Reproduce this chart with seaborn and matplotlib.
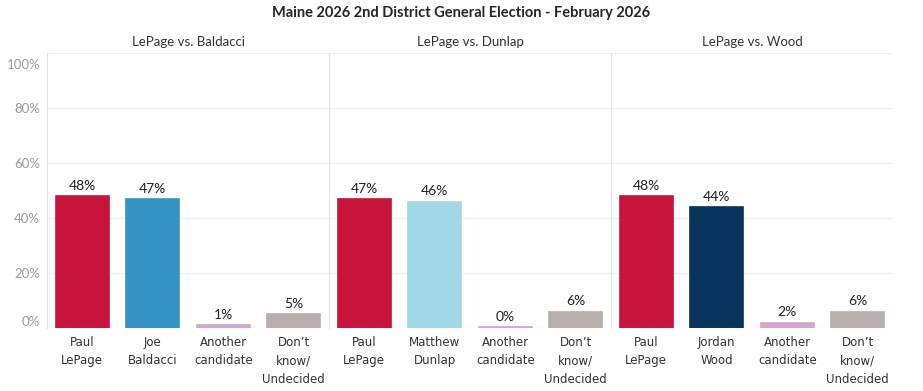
import pandas as pd
import matplotlib.pyplot as plt
import matplotlib.transforms as mtransforms
from matplotlib import font_manager
import seaborn as sns


TITLE = "Maine 2026 2nd District General Election - February 2026"

PANELS = ["LePage vs. Baldacci", "LePage vs. Dunlap", "LePage vs. Wood"]

BALDACCI_LABELS = ["Paul\nLePage", "Joe\nBaldacci", "Another\ncandidate", "Don\u2019t\nknow/\nUndecided"]
DUNLAP_LABELS = ["Paul\nLePage", "Matthew\nDunlap", "Another\ncandidate", "Don\u2019t\nknow/\nUndecided"]
WOOD_LABELS = ["Paul\nLePage", "Jordan\nWood", "Another\ncandidate", "Don\u2019t\nknow/\nUndecided"]

BALDACCI_VALUES = [48, 47, 1, 5]
DUNLAP_VALUES = [47, 46, 0.4, 6]
WOOD_VALUES = [48, 44, 2, 6]

BALDACCI_COLORS = ["#C8143A", "#3594C4", "#D5A6C9", "#B8AFAB"]
DUNLAP_COLORS = ["#C8143A", "#A0D8E5", "#D5A6C9", "#B8AFAB"]
WOOD_COLORS = ["#C8143A", "#08345E", "#D5A6C9", "#B8AFAB"]

Y_TICKS = [0, 20, 40, 60, 80, 100]

# resolve the label font to a file so it can't silently fall back to Lato
TICK_FONT_FILE = font_manager.findfont(font_manager.FontProperties(family="DejaVu Sans"))
TICK_FONT = font_manager.FontProperties(fname=TICK_FONT_FILE, size=8.5)


def draw_panel(ax, title, labels, values, colors):
    df = pd.DataFrame({"Answer": labels, "Share": values})
    sns.barplot(
        data=df,
        x="Answer",
        y="Share",
        hue="Answer",
        palette=colors,
        legend=False,
        width=0.75,
        saturation=1,
        ax=ax,
    )
    # thin edge in bar colour so tiny values still show as a sliver
    for patch in ax.patches:
        patch.set_edgecolor(patch.get_facecolor())
        patch.set_linewidth(1.2)

    for x, v in enumerate(values):
        ax.text(x, v + 1.5, f"{round(v)}%", ha="center", va="bottom",
                fontsize=10, color="#222222")

    # category labels drawn as text so font and line spacing stick
    ax.set_xticks(range(len(labels)))
    ax.set_xticklabels([])
    trans = mtransforms.blended_transform_factory(ax.transData, ax.transAxes)
    for x, lab in enumerate(labels):
        ax.text(x, -0.028, lab, transform=trans, ha="center", va="top",
                fontproperties=TICK_FONT, color="#333333",
                linespacing=1.55)

    ax.set_title(title, fontsize=9.5, color="#333333", pad=5)
    ax.set_xlabel("")
    ax.set_ylabel("")
    ax.set_xlim(-0.5, 3.5)
    ax.set_ylim(0, 100)
    ax.set_yticks(Y_TICKS)
    ax.yaxis.grid(True, color="#EFEFEF", linewidth=0.9)
    ax.set_axisbelow(True)
    ax.tick_params(axis="x", length=0)
    ax.tick_params(axis="y", length=0)
    for side in ["top", "right", "bottom"]:
        ax.spines[side].set_visible(False)
    ax.spines["left"].set_color("#E2E2E2")


sns.set_style("white")
plt.rcParams["font.family"] = ["Lato", "DejaVu Sans"]

fig, axes = plt.subplots(1, 3, figsize=(9.23, 3.91), dpi=100, sharey=True)
fig.subplots_adjust(left=0.051, right=0.9675, top=0.864, bottom=0.161, wspace=0)

draw_panel(axes[0], PANELS[0], BALDACCI_LABELS, BALDACCI_VALUES, BALDACCI_COLORS)
draw_panel(axes[1], PANELS[1], DUNLAP_LABELS, DUNLAP_VALUES, DUNLAP_COLORS)
draw_panel(axes[2], PANELS[2], WOOD_LABELS, WOOD_VALUES, WOOD_COLORS)

axes[0].set_yticklabels([f"{t}%" for t in Y_TICKS])
axes[0].tick_params(axis="y", labelsize=9.5, labelcolor="#9A9A9A", pad=5)
# end labels sit inside the plot area like the original
ylabels = axes[0].get_yticklabels()
ylabels[0].set_verticalalignment("bottom")
ylabels[-1].set_verticalalignment("top")
ylabels[-1].set_transform(ylabels[-1].get_transform()
                          + mtransforms.ScaledTranslation(0, -4 / 72, fig.dpi_scale_trans))

for ax in axes:
    ax.axhline(0, color="#E6E6E6", linewidth=0.8, linestyle=(0, (1, 2)))

fig.suptitle(TITLE, fontsize=10.5, fontweight="bold", x=0.5, y=0.985)

plt.savefig("out.png", dpi=100)
plt.close()
